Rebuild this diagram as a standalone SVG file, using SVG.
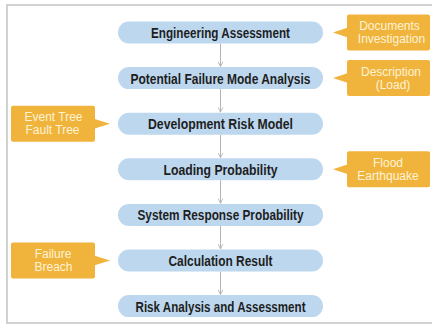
<svg xmlns="http://www.w3.org/2000/svg" width="432" height="325" viewBox="0 0 432 325">
<style>
.pill{fill:#bdd7ef;}
.pt{font-family:"Liberation Sans",Arial,sans-serif;font-weight:bold;font-size:14px;fill:#1e1e1e;text-anchor:middle;}
.co{fill:#f0b43c;}
.ct{font-family:"Liberation Sans",Arial,sans-serif;font-size:12px;fill:#fff3d6;text-anchor:middle;}
.frame{fill:none;stroke:#c4c4c4;stroke-width:1.5;}
.conn{stroke:#b4b4b4;stroke-width:1;fill:none;}
</style>
<defs>
<marker id="ah" viewBox="0 0 10 10" refX="9" refY="5" markerWidth="6" markerHeight="6" orient="auto" markerUnits="userSpaceOnUse">
<path d="M1,1 L9,5 L1,9" fill="none" stroke="#b4b4b4" stroke-width="1.5"/>
</marker>
</defs>
<rect width="432" height="325" fill="#ffffff"/>
<path class="frame" d="M432,5 H7 V323 H432"/>
<g id="connectors">
<line class="conn" x1="220.5" y1="43.5" x2="220.5" y2="66.5" marker-end="url(#ah)"/>
<line class="conn" x1="220.5" y1="89.1" x2="220.5" y2="112.1" marker-end="url(#ah)"/>
<line class="conn" x1="220.5" y1="134.7" x2="220.5" y2="157.7" marker-end="url(#ah)"/>
<line class="conn" x1="220.5" y1="180.3" x2="220.5" y2="203.3" marker-end="url(#ah)"/>
<line class="conn" x1="220.5" y1="225.9" x2="220.5" y2="248.9" marker-end="url(#ah)"/>
<line class="conn" x1="220.5" y1="271.5" x2="220.5" y2="294.5" marker-end="url(#ah)"/>
</g>
<g id="n1"><rect class="pill" x="118" y="21.5" width="205" height="22" rx="11"/><text class="pt" x="220.5" y="38" textLength="139" lengthAdjust="spacingAndGlyphs">Engineering Assessment</text></g>
<g id="n2"><rect class="pill" x="118" y="67.1" width="205" height="22" rx="11"/><text class="pt" x="220.5" y="83.6" textLength="180" lengthAdjust="spacingAndGlyphs">Potential Failure Mode Analysis</text></g>
<g id="n3"><rect class="pill" x="118" y="112.7" width="205" height="22" rx="11"/><text class="pt" x="220.5" y="129.2" textLength="145" lengthAdjust="spacingAndGlyphs">Development Risk Model</text></g>
<g id="n4"><rect class="pill" x="118" y="158.3" width="205" height="22" rx="11"/><text class="pt" x="220.5" y="174.8" textLength="114" lengthAdjust="spacingAndGlyphs">Loading Probability</text></g>
<g id="n5"><rect class="pill" x="118" y="203.9" width="205" height="22" rx="11"/><text class="pt" x="220.5" y="220.4" textLength="166" lengthAdjust="spacingAndGlyphs">System Response Probability</text></g>
<g id="n6"><rect class="pill" x="118" y="249.5" width="205" height="22" rx="11"/><text class="pt" x="220.5" y="266" textLength="104" lengthAdjust="spacingAndGlyphs">Calculation Result</text></g>
<g id="n7"><rect class="pill" x="118" y="295.1" width="205" height="22" rx="11"/><text class="pt" x="220.5" y="311.6" textLength="170" lengthAdjust="spacingAndGlyphs">Risk Analysis and Assessment</text></g>
<g id="c1"><rect class="co" x="347" y="14.5" width="83" height="36" rx="2"/><path class="co" d="M348,27.5 L333,32.5 L348,37.5 Z"/><text class="ct" x="389.5" y="30">Documents</text><text class="ct" x="391.5" y="43">Investigation</text></g>
<g id="c2"><rect class="co" x="347" y="60.1" width="83" height="36" rx="2"/><path class="co" d="M348,73.1 L333,78.1 L348,83.1 Z"/><text class="ct" x="391" y="75.6">Description</text><text class="ct" x="393" y="88.6">(Load)</text></g>
<g id="c3"><rect class="co" x="11" y="105.7" width="84" height="36" rx="2"/><path class="co" d="M94,118.7 L110,123.7 L94,128.7 Z"/><text class="ct" x="53.5" y="121.2">Event Tree</text><text class="ct" x="52.5" y="134.2">Fault Tree</text></g>
<g id="c4"><rect class="co" x="347" y="151.3" width="83" height="36" rx="2"/><path class="co" d="M348,164.3 L333,169.3 L348,174.3 Z"/><text class="ct" x="388" y="166.8">Flood</text><text class="ct" x="388" y="179.8">Earthquake</text></g>
<g id="c5"><rect class="co" x="11" y="242.5" width="84" height="36" rx="2"/><path class="co" d="M94,255.5 L110,260.5 L94,265.5 Z"/><text class="ct" x="53" y="258">Failure</text><text class="ct" x="53.5" y="271">Breach</text></g>
</svg>
